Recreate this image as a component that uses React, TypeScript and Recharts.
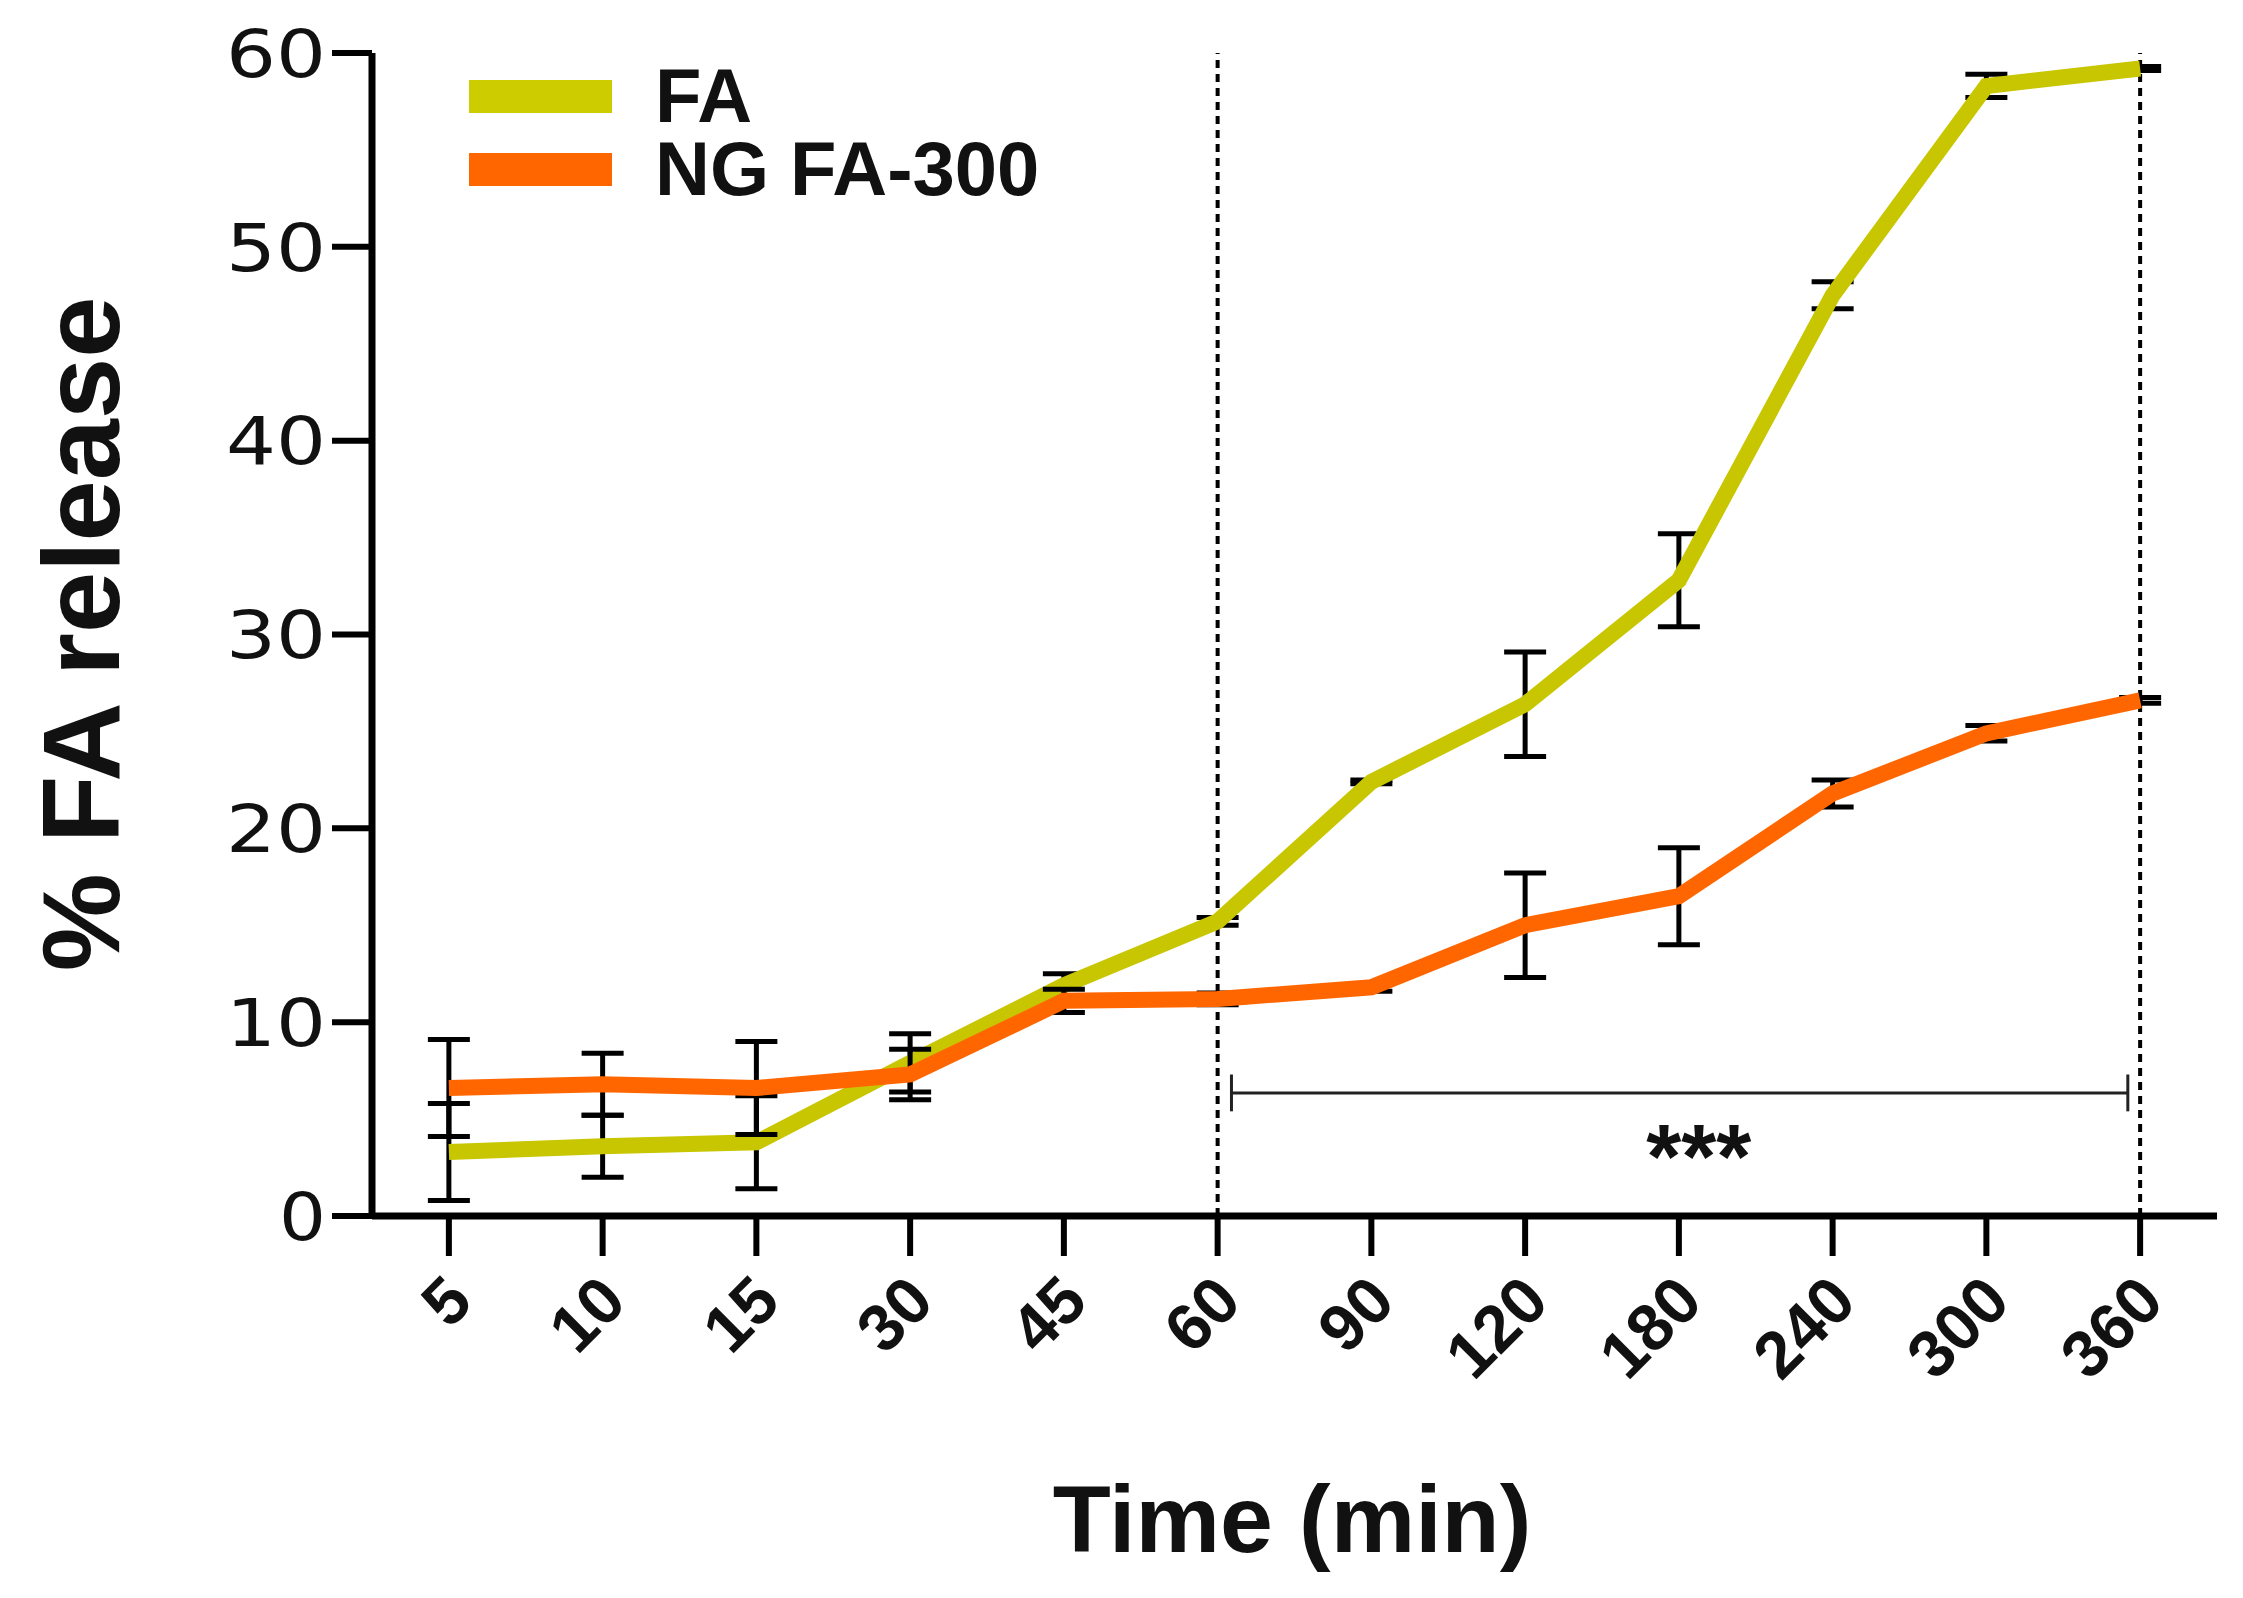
import React from 'react';
import {
  LineChart,
  Line,
  XAxis,
  YAxis,
  ErrorBar,
  ReferenceLine,
  ReferenceDot,
} from 'recharts';

// time points (min)
const times = ['5', '10', '15', '30', '45', '60', '90', '120', '180', '240', '300', '360'];
// % FA release, free FA
const faValues = [3.3, 3.6, 3.8, 7.9, 11.9, 15.2, 22.4, 26.4, 32.8, 47.5, 58.3, 59.2];
const faErrors = [2.5, 1.6, 2.4, 1.5, 0.6, 0.2, 0.1, 2.7, 2.4, 0.7, 0.6, 0.1];
// % FA release, NG FA-300
const ngValues = [6.6, 6.8, 6.6, 7.3, 11.1, 11.2, 11.8, 15.0, 16.5, 21.8, 24.9, 26.6];
const ngErrors = [2.5, 1.6, 2.4, 1.3, 0.6, 0.3, 0.2, 2.7, 2.5, 0.7, 0.4, 0.15];
const yTicks = [0, 10, 20, 30, 40, 50, 60];

const FA_COLOR = '#c8c600';
const NG_COLOR = '#ff6600';
const SANS = '"Liberation Sans", Arial, sans-serif';

const W = 2243;
const H = 1598;

// x is the position index of each time point, so the axis stays evenly spaced
const chartData = times.map((t, i) => ({
  idx: i,
  time: t,
  fa: faValues[i],
  faErr: faErrors[i],
  ng: ngValues[i],
  ngErr: ngErrors[i],
}));
const xTicks = times.map((_, i) => i);

const YTick = (props: any) => {
  const { x, y, payload } = props;
  const s = String(payload.value);
  return (
    <text
      x={x - 4}
      y={y}
      dy="0.36em"
      textAnchor="end"
      fontFamily='"DejaVu Sans", sans-serif'
      fontSize={66}
      fill="#111"
      textLength={s.length * 53 - 6}
      lengthAdjust="spacingAndGlyphs"
    >
      {s}
    </text>
  );
};

const XTick = (props: any) => {
  const { x, y, payload } = props;
  return (
    <g transform={`translate(${x + 10},${y + 30})`}>
      <text
        transform="rotate(-45)"
        textAnchor="end"
        dy="0.35em"
        fontFamily={SANS}
        fontWeight="bold"
        fontSize={66}
        fill="#111"
      >
        {times[payload.value]}
      </text>
    </g>
  );
};

const legendItems = [
  { label: 'FA', color: '#cccc00' },
  { label: 'NG FA-300', color: NG_COLOR },
];

const Stars = (props: any) => (
  <text
    x={props.cx}
    y={props.cy}
    dy={44}
    textAnchor="middle"
    fontFamily={SANS}
    fontWeight="bold"
    fontSize={90}
    fill="#111"
  >
    ***
  </text>
);

export default function App() {
  return (
    <div style={{ position: 'relative', width: W, height: H, background: '#fff' }}>
      <style>{`body{margin:0}`}</style>
      <LineChart
        width={W}
        height={H}
        data={chartData}
        margin={{ top: 53, right: 26, left: 172, bottom: 182 }}
      >
        <XAxis
          dataKey="idx"
          type="number"
          domain={[-0.5, 11.5]}
          ticks={xTicks}
          height={200}
          tick={<XTick />}
          tickSize={40}
          interval={0}
          axisLine={{ stroke: '#000', strokeWidth: 7 }}
          tickLine={{ stroke: '#000', strokeWidth: 6 }}
        />
        <YAxis
          width={200}
          domain={[0, 60]}
          ticks={yTicks}
          tick={<YTick />}
          tickSize={40}
          axisLine={{ stroke: '#000', strokeWidth: 7 }}
          tickLine={{ stroke: '#000', strokeWidth: 6 }}
        />
        <ReferenceLine x={5} stroke="#000" strokeWidth={4} strokeDasharray="8 6" />
        <ReferenceLine x={11} stroke="#000" strokeWidth={4} strokeDasharray="8 6" />
        <ReferenceLine
          segment={[{ x: 5.09, y: 6.35 }, { x: 10.92, y: 6.35 }]}
          stroke="#222"
          strokeWidth={3}
        />
        <ReferenceLine
          segment={[{ x: 5.09, y: 5.4 }, { x: 5.09, y: 7.3 }]}
          stroke="#222"
          strokeWidth={3}
        />
        <ReferenceLine
          segment={[{ x: 10.92, y: 5.4 }, { x: 10.92, y: 7.3 }]}
          stroke="#222"
          strokeWidth={3}
        />
        <ReferenceDot x={8.13} y={3.7} r={0} shape={<Stars />} />
        <Line
          type="linear"
          dataKey="fa"
          stroke={FA_COLOR}
          strokeWidth={16}
          dot={false}
          activeDot={false}
          isAnimationActive={false}
        >
          <ErrorBar dataKey="faErr" width={21} stroke="#000" strokeWidth={5} direction="y" />
        </Line>
        <Line
          type="linear"
          dataKey="ng"
          stroke={NG_COLOR}
          strokeWidth={16}
          dot={false}
          activeDot={false}
          isAnimationActive={false}
        >
          <ErrorBar dataKey="ngErr" width={21} stroke="#000" strokeWidth={5} direction="y" />
        </Line>
      </LineChart>
      <div style={{ position: 'absolute', left: 469, top: 60 }}>
        {legendItems.map((it) => (
          <div key={it.label} style={{ display: 'flex', alignItems: 'center', height: 73 }}>
            <div style={{ width: 143, height: 33, background: it.color, marginRight: 43 }} />
            <span
              style={{ fontFamily: SANS, fontWeight: 'bold', fontSize: 76, lineHeight: 0.9, color: '#111' }}
            >
              {it.label}
            </span>
          </div>
        ))}
      </div>
      <div
        style={{
          position: 'absolute',
          left: 81,
          top: 634,
          transform: 'translate(-50%, -50%) rotate(-90deg)',
          whiteSpace: 'nowrap',
          fontFamily: SANS,
          fontWeight: 'bold',
          fontSize: 110,
          lineHeight: 1,
          color: '#111',
        }}
      >
        % FA release
      </div>
      <div
        style={{
          position: 'absolute',
          left: 1292,
          top: 1472,
          transform: 'translateX(-50%)',
          whiteSpace: 'nowrap',
          fontFamily: SANS,
          fontWeight: 'bold',
          fontSize: 95,
          lineHeight: 1,
          color: '#111',
        }}
      >
        Time (min)
      </div>
    </div>
  );
}
